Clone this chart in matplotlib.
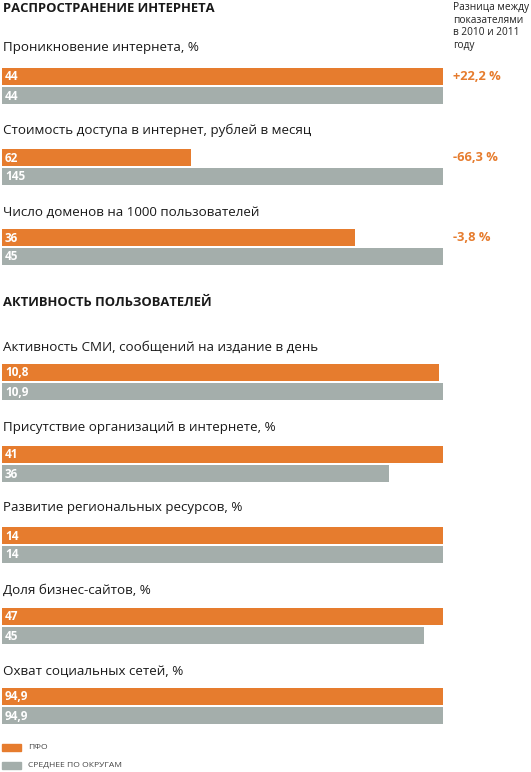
import matplotlib
matplotlib.use("Agg")
import matplotlib.pyplot as plt
from matplotlib.patches import Rectangle

plt.rcParams['font.family'] = ['Open Sans', 'DejaVu Sans']

# данные
section1 = "РАСПРОСТРАНЕНИЕ ИНТЕРНЕТА"
section2 = "АКТИВНОСТЬ ПОЛЬЗОВАТЕЛЕЙ"
titles = ["Проникновение интернета, %",
          "Стоимость доступа в интернет, рублей в месяц",
          "Число доменов на 1000 пользователей",
          "Активность СМИ, сообщений на издание в день",
          "Присутствие организаций в интернете, %",
          "Развитие региональных ресурсов, %",
          "Доля бизнес-сайтов, %",
          "Охват социальных сетей, %"]
pfo = [44, 62, 36, 10.8, 41, 14, 47, 94.9]
avg = [44, 145, 45, 10.9, 36, 14, 45, 94.9]
diff = ["+22,2 %", "-66,3 %", "-3,8 %", None, None, None, None, None]
legend_labels = ["ПФО", "СРЕДНЕЕ ПО ОКРУГАМ"]

ORANGE = "#E67C2E"
GRAY = "#A4AEAB"

def fmt(v):
    s = ("%g" % v)
    return s.replace(".", ",")

fig = plt.figure(figsize=(5.31, 7.72), dpi=100)
ax = fig.add_axes([0, 0, 1, 1])
ax.set_xlim(0, 531)
ax.set_ylim(772, 0)
ax.axis("off")

# верхние координаты групп (пиксели)
title_y = [48, 130, 212, 347, 428, 508, 590, 671]
bar_y = [68, 149, 229, 364, 446, 527, 608, 688]
x0, full_w, bh, gap = 2, 441, 17, 2

ax.text(3, 8.5, section1, fontsize=9.4, fontweight="bold", va="center",
        color="#1a1a1a")
ax.text(3, 303, section2, fontsize=9.4, fontweight="bold", va="center",
        color="#1a1a1a")
ax.text(453, 2, "Разница между\nпоказателями\nв 2010 и 2011\nгоду", fontsize=7.3,
        va="top", linespacing=1.2, color="#222222")

for i in range(len(titles)):
    m = max(pfo[i], avg[i])
    ax.text(3, title_y[i], titles[i], fontsize=9.6, va="center", color="#1a1a1a")
    ax.barh(bar_y[i] + bh / 2, pfo[i] / m * full_w, left=x0, height=bh,
            color=ORANGE)
    ax.barh(bar_y[i] + bh + gap + bh / 2, avg[i] / m * full_w, left=x0,
            height=bh, color=GRAY)
    ax.text(5, bar_y[i] + bh / 2 + 0.5, fmt(pfo[i]), color="white",
            fontsize=8.5, fontweight="bold", va="center")
    ax.text(5, bar_y[i] + bh + gap + bh / 2 + 0.5, fmt(avg[i]), color="white",
            fontsize=8.5, fontweight="bold", va="center")
    if diff[i]:
        ax.text(453, bar_y[i] + bh / 2, diff[i], color=ORANGE, fontsize=9.3,
                fontweight="bold", va="center")

# легенда
for j, (lab, c) in enumerate(zip(legend_labels, [ORANGE, GRAY])):
    y = 744 + j * 18
    ax.add_patch(Rectangle((2, y), 19, 7, color=c))
    ax.text(28, y + 3.5, lab, fontsize=6.1, va="center", color="#444444")

fig.savefig("out.png", dpi=100)
